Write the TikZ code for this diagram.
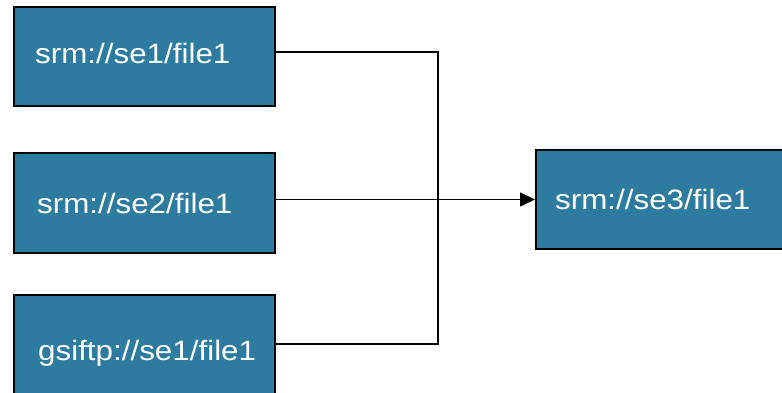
\documentclass[tikz,border=0pt]{standalone}
\usepackage{fontspec}
\setmainfont[FakeStretch=1.12]{Liberation Sans}
\usetikzlibrary{arrows.meta}
\definecolor{boxblue}{RGB}{45,124,159}
\tikzset{
  filebox/.style={draw=black, line width=2pt, fill=boxblue, rectangle, inner sep=0pt},
  filelabel/.style={anchor=base west, inner sep=0pt, text=white, font=\fontsize{28}{30}\selectfont},
  wire/.style={draw=black, line width=1.6pt},
}
\begin{document}
\begin{tikzpicture}[x=1pt, y=-1pt]
  \useasboundingbox (0,0) rectangle (782,392);
  \clip (0,0) rectangle (782,392);
  % source and destination boxes
  \node[filebox, minimum width=261pt, minimum height=99pt] (b1) at (144.5,56.5) {};
  \node[filebox, minimum width=261pt, minimum height=100pt] (b2) at (144.5,203) {};
  \node[filebox, minimum width=261pt, minimum height=100pt] (b3) at (144.5,345) {};
  \node[filebox, minimum width=250pt, minimum height=99pt] (b4) at (661,199.5) {};
  % box captions
  \node[filelabel] (t1) at (35,63) {srm://se1/file1};
  \node[filelabel] (t2) at (37,213) {srm://se2/file1};
  \node[filelabel] (t3) at (38,360) {gsiftp://se1/file1};
  \node[filelabel] (t4) at (555,209) {srm://se3/file1};
  % connectors
  \coordinate (jtop) at (438,52);
  \coordinate (jbot) at (438,344);
  \draw[wire] (b1.east |- jtop) -- (jtop) -- (jbot) -- (b3.east |- jbot);
  \draw[wire, -{Triangle[length=15pt, width=14pt]}] (b2.east |- b4.west) -- (b4.west);
\end{tikzpicture}
\end{document}
